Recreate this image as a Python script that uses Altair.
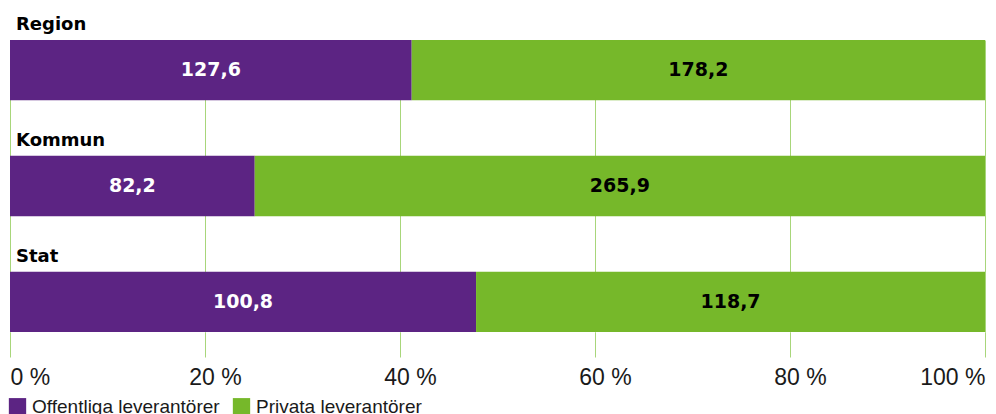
import altair as alt
import pandas as pd

categories = ["Region", "Kommun", "Stat"]
series = ["Offentliga leverantörer", "Privata leverantörer"]
# values shown as labels (mdkr)
offentliga = [127.6, 82.2, 100.8]
privata = [178.2, 265.9, 118.7]
# shares (%)
offentliga_andel = [41.2, 25.1, 47.8]
privata_andel = [58.8, 74.9, 52.2]
colors = ["#5c2483", "#76b82a"]
text_colors = ["#ffffff", "#000000"]

rows = []
for i, cat in enumerate(categories):
    for j, (name, vals, shares) in enumerate(
        zip(series, [offentliga, privata], [offentliga_andel, privata_andel])
    ):
        v = vals[i]
        rows.append({
            "kategori": cat,
            "typ": name,
            "value": v,
            "share": shares[i],
            "order": j,
            "label": f"{v:.1f}".replace(".", ","),
            "tcolor": text_colors[j],
        })
df = pd.DataFrame(rows)

BOLD = "DejaVu Sans"
REG = "Liberation Sans"

base = alt.Chart(df).transform_window(
    cum="sum(share)", groupby=["kategori"], sort=[alt.SortField("order")]
).transform_calculate(
    start="datum.cum - datum.share",
    mid="datum.cum - datum.share / 2",
)

yenc = alt.Y(
    "kategori:N",
    sort=categories,
    axis=None,
    scale=alt.Scale(paddingInner=0.48, paddingOuter=0),
)

xaxis = alt.Axis(
    values=[0, 20, 40, 60, 80, 100],
    labelExpr="datum.value + ' %'",
    grid=True,
    gridColor="#a8d67a",
    gridWidth=1,
    tickColor="#a8d67a",
    tickWidth=1,
    tickSize=25,
    domain=False,
    labelFont=REG,
    labelFontSize=23,
    labelColor="#1a1a1a",
    labelPadding=9,
    labelFlush=True,
    labelOffset={
        "condition": [
            {"test": "datum.value == 0", "value": 0},
            {"test": "datum.value == 100", "value": 0},
        ],
        "value": 10,
    },
    title=None,
)

bars = base.mark_bar().encode(
    x=alt.X("start:Q", axis=xaxis, scale=alt.Scale(domain=[0, 100], nice=False)),
    x2="cum:Q",
    y=yenc,
    color=alt.Color(
        "typ:N",
        scale=alt.Scale(domain=series, range=colors),
        legend=alt.Legend(
            title=None,
            orient="none",
            legendX=-2,
            legendY=357,
            direction="horizontal",
            symbolType="square",
            symbolSize=300,
            symbolStrokeWidth=0,
            symbolOpacity=1,
            labelFont=REG,
            labelFontSize=19,
            labelColor="#1a1a1a",
            labelLimit=0,
            columnPadding=12,
            labelOffset=5,
        ),
    ),
)

values = base.mark_text(font=BOLD, fontSize=19, fontWeight="bold").encode(
    x=alt.X("mid:Q"),
    y=yenc,
    text="label:N",
    color=alt.Color("tcolor:N", scale=None),
)

cat_labels = alt.Chart(pd.DataFrame({"kategori": categories})).mark_text(
    font=BOLD, fontSize=18, fontWeight="bold", align="left", dy=-45, color="#000000"
).encode(
    x=alt.value(6),
    y=yenc,
    text="kategori:N",
)

chart = alt.layer(bars, values, cat_labels).properties(
    width=975,
    height=292,
    padding={"left": 0, "top": 8, "right": 0, "bottom": 5},
).configure_view(stroke=None)

chart.save("out.html", embed_options={"renderer": "svg", "actions": False})
